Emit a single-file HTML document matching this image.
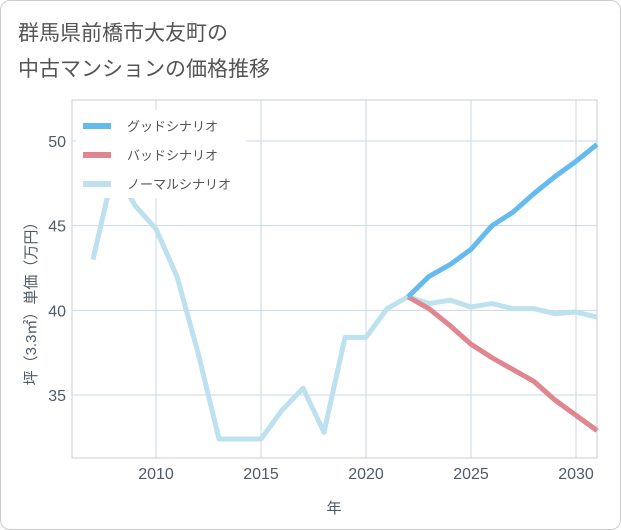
<!DOCTYPE html>
<html><head><meta charset="utf-8"><style>
body{margin:0;background:#fff;font-family:"Liberation Sans","Noto Sans CJK JP",sans-serif;}
#wrap{position:relative;width:619px;height:528px;border:1px solid #ccc;border-radius:10px;overflow:hidden;background:#fff}
</style></head><body>
<div id="wrap">
<svg id="chart" width="621" height="530" style="position:absolute;left:-1px;top:-1px">
<text x="18" y="40" font-size="21" fill="#555">群馬県前橋市大友町の</text>
<text x="18" y="76" font-size="21" fill="#555">中古マンションの価格推移</text>
<rect x="72" y="100" width="525" height="358" fill="none" stroke="#ccc"/>
<g id="grid"></g><g id="series"></g><g id="axes"></g>
<text x="334" y="513" font-size="15" fill="#4d5b6a" text-anchor="middle">年</text>
<text transform="translate(36,300) rotate(-90)" font-size="15" fill="#4d5b6a" text-anchor="middle">坪（3.3㎡）単価（万円）</text>
<g id="legend"></g>
</svg>
</div>
<script>
const years=[2007,2008,2009,2010,2011,2012,2013,2014,2015,2016,2017,2018,2019,2020,2021,2022,2023,2024,2025,2026,2027,2028,2029,2030,2031];
const normalVals=[43,48.4,46.2,44.8,42,37.5,32.4,32.4,32.4,34.1,35.4,32.8,38.4,38.4,40.1,40.8,40.4,40.6,40.2,40.4,40.1,40.1,39.8,39.9,39.6];
const futureYears=[2022,2023,2024,2025,2026,2027,2028,2029,2030,2031];
const goodVals=[40.8,42.0,42.7,43.6,45.0,45.8,46.9,47.9,48.8,49.8];
const badVals=[40.8,40.1,39.1,38.0,37.2,36.5,35.8,34.7,33.8,32.9];
const xTicks=[2010,2015,2020,2025,2030];
const yTicks=[35,40,45,50];
const NS="http://www.w3.org/2000/svg";
const X=v=>72+(v-2006)*21, Y=v=>141+(50-v)*(254/15);
function mk(t,a,p){const e=document.createElementNS(NS,t);for(const k in a)e.setAttribute(k,a[k]);document.getElementById(p).appendChild(e);return e;}
xTicks.forEach(t=>{
 const l=mk('line',{x1:X(t),x2:X(t),y1:100,y2:458,stroke:'#c8d8e6'},'grid');
 
 
 const tx=mk('text',{x:X(t),y:479,'font-size':16,fill:'#4d5b6a','text-anchor':'middle'},'axes');tx.textContent=t;
 
 
});
yTicks.forEach(t=>{
 const l=mk('line',{x1:72,x2:597,y1:Y(t),y2:Y(t),stroke:'#c8d8e6'},'grid');
 
 
 const tx=mk('text',{x:66,y:Y(t)+6,'font-size':16,fill:'#4d5b6a','text-anchor':'end'},'axes');tx.textContent=t;
 
 
});
function line(xs,vs,c,name){
 const p=mk('polyline',{points:xs.map((x,i)=>X(x)+','+Y(vs[i])).join(' '),fill:'none',stroke:c,'stroke-width':5,'stroke-linejoin':'round'},'series');
 
 
}
line(years,normalVals,'#bde1ee','normal-scenario-line');
line(futureYears,badVals,'#e0868f','bad-scenario-line');
line(futureYears,goodVals,'#66bbee','good-scenario-line');
const lg=mk('rect',{x:76,y:110,width:170,height:88,fill:'#fff'},'legend');


[['グッドシナリオ','#66bbee'],['バッドシナリオ','#e0868f'],['ノーマルシナリオ','#bde1ee']].forEach((d,i)=>{
 const y=126+i*29;
 const s=mk('line',{x1:83,x2:111,y1:y,y2:y,stroke:d[1],'stroke-width':6},'legend');
 
 
 const t=mk('text',{x:127,y:y+5,'font-size':13,fill:'#555'},'legend');t.textContent=d[0];
 
 
});
</script>
</body></html>
